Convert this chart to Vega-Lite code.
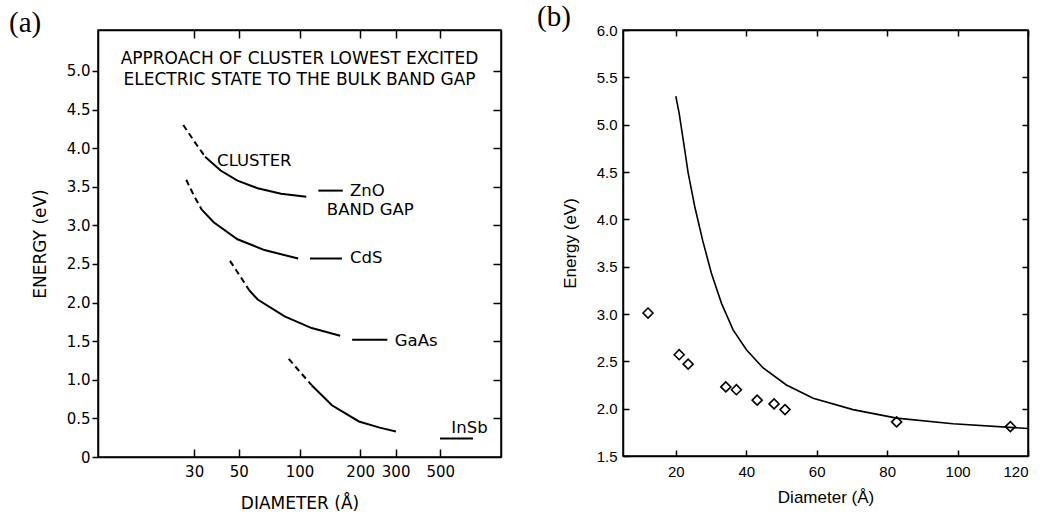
{
  "$schema": "https://vega.github.io/schema/vega-lite/v6.json",
  "background": "white",
  "padding": {"left": 8, "top": 2, "right": 0, "bottom": 0},
  "spacing": 33,
  "config": {
    "view": {"stroke": "black", "strokeWidth": 1.5},
    "axis": {"grid": false, "domain": true, "domainColor": "black", "domainWidth": 1.5, "tickColor": "black", "labelColor": "black", "titleColor": "black", "titleFontWeight": "normal", "tickWidth": 1.5},
    "title": {"font": "Liberation Serif", "fontSize": 29, "fontWeight": "normal", "color": "black", "anchor": "start", "frame": "group", "baseline": "alphabetic"}
  },
  "datasets": {
    "adash": [
      {"s": "ZnO", "logd": 1.4232, "e": 4.30},
      {"s": "ZnO", "logd": 1.4771, "e": 4.09},
      {"s": "ZnO", "logd": 1.5315, "e": 3.89},
      {"s": "CdS", "logd": 1.4378, "e": 3.59},
      {"s": "CdS", "logd": 1.4771, "e": 3.38},
      {"s": "CdS", "logd": 1.5159, "e": 3.20},
      {"s": "GaAs", "logd": 1.6551, "e": 2.54},
      {"s": "GaAs", "logd": 1.7033, "e": 2.35},
      {"s": "GaAs", "logd": 1.7505, "e": 2.16},
      {"s": "InSb", "logd": 1.9465, "e": 1.27},
      {"s": "InSb", "logd": 2.0, "e": 1.11},
      {"s": "InSb", "logd": 2.0603, "e": 0.93}
    ],
    "asolid": [
      {"s": "ZnO", "logd": 1.5315, "e": 3.89},
      {"s": "ZnO", "logd": 1.6085, "e": 3.71},
      {"s": "ZnO", "logd": 1.6920, "e": 3.58},
      {"s": "ZnO", "logd": 1.7924, "e": 3.48},
      {"s": "ZnO", "logd": 1.9085, "e": 3.41},
      {"s": "ZnO", "logd": 2.0334, "e": 3.37},
      {"s": "ZnO gap", "logd": 2.0934, "e": 3.45},
      {"s": "ZnO gap", "logd": 2.2148, "e": 3.45},
      {"s": "CdS", "logd": 1.5159, "e": 3.20},
      {"s": "CdS", "logd": 1.5740, "e": 3.04},
      {"s": "CdS", "logd": 1.6920, "e": 2.82},
      {"s": "CdS", "logd": 1.8261, "e": 2.68},
      {"s": "CdS", "logd": 1.9934, "e": 2.57},
      {"s": "CdS gap", "logd": 2.0519, "e": 2.57},
      {"s": "CdS gap", "logd": 2.2111, "e": 2.57},
      {"s": "GaAs", "logd": 1.7505, "e": 2.16},
      {"s": "GaAs", "logd": 1.7924, "e": 2.04},
      {"s": "GaAs", "logd": 1.9263, "e": 1.82},
      {"s": "GaAs", "logd": 2.0603, "e": 1.67},
      {"s": "GaAs", "logd": 2.2019, "e": 1.57},
      {"s": "GaAs gap", "logd": 2.2613, "e": 1.52},
      {"s": "GaAs gap", "logd": 2.4362, "e": 1.52},
      {"s": "InSb", "logd": 2.0603, "e": 0.93},
      {"s": "InSb", "logd": 2.1608, "e": 0.67},
      {"s": "InSb", "logd": 2.2949, "e": 0.46},
      {"s": "InSb", "logd": 2.3979, "e": 0.38},
      {"s": "InSb", "logd": 2.4786, "e": 0.33},
      {"s": "InSb gap", "logd": 2.6972, "e": 0.24},
      {"s": "InSb gap", "logd": 2.8609, "e": 0.24}
    ],
    "alabels": [
      {"logd": 1.5911, "e": 3.83, "t": "CLUSTER"},
      {"logd": 2.2504, "e": 3.45, "t": "ZnO"},
      {"logd": 2.1358, "e": 3.20, "t": "BAND GAP"},
      {"logd": 2.2504, "e": 2.58, "t": "CdS"},
      {"logd": 2.4728, "e": 1.50, "t": "GaAs"},
      {"logd": 2.7536, "e": 0.37, "t": "InSb"}
    ],
    "atitle": [
      {"logd": 2.0, "e": 5.15, "t": "APPROACH OF CLUSTER LOWEST EXCITED"},
      {"logd": 2.0, "e": 4.88, "t": "ELECTRIC STATE TO THE BULK BAND GAP"}
    ],
    "bcurve": [
      {"d": 20, "e": 5.30},
      {"d": 20.95, "e": 5.12},
      {"d": 22.1, "e": 4.84},
      {"d": 23.5, "e": 4.49},
      {"d": 25.4, "e": 4.13},
      {"d": 27.6, "e": 3.78},
      {"d": 30.1, "e": 3.43},
      {"d": 33.0, "e": 3.11},
      {"d": 36.3, "e": 2.83},
      {"d": 40.1, "e": 2.62},
      {"d": 44.8, "e": 2.43},
      {"d": 51.4, "e": 2.25},
      {"d": 59.0, "e": 2.11},
      {"d": 70.3, "e": 1.99},
      {"d": 82.7, "e": 1.90},
      {"d": 98.7, "e": 1.84},
      {"d": 120, "e": 1.79}
    ],
    "bpts": [
      {"d": 12.1, "e": 3.01},
      {"d": 20.95, "e": 2.57},
      {"d": 23.5, "e": 2.47},
      {"d": 34.2, "e": 2.23},
      {"d": 37.2, "e": 2.20},
      {"d": 43.1, "e": 2.09},
      {"d": 47.9, "e": 2.05},
      {"d": 51.0, "e": 1.99},
      {"d": 82.7, "e": 1.86},
      {"d": 115.0, "e": 1.81}
    ]
  },
  "hconcat": [
    {
      "width": 403,
      "height": 427,
      "title": {"text": "(a)", "dx": -89, "offset": -9},
      "resolve": {"axis": {"x": "independent", "y": "independent"}},
      "layer": [
        {
          "data": {"name": "asolid"},
          "mark": {"type": "line", "color": "black", "strokeWidth": 2},
          "encoding": {
            "x": {"field": "logd", "type": "quantitative",
              "scale": {"domain": [1, 3], "nice": false, "zero": false},
              "axis": {"orient": "bottom", "values": [1.4771, 1.699, 2, 2.301, 2.4771, 2.699],
                "labelExpr": "format(pow(10, datum.value), 'd')", "title": "DIAMETER (Å)",
                "tickSize": -8, "labelPadding": 15, "labelFont": "DejaVu Sans", "labelFontSize": 15,
                "titleFont": "DejaVu Sans", "titleFontSize": 17, "titlePadding": 16}},
            "y": {"field": "e", "type": "quantitative",
              "scale": {"domain": [0, 5.53], "nice": false, "zero": false},
              "axis": {"orient": "left", "values": [0, 0.5, 1, 1.5, 2, 2.5, 3, 3.5, 4, 4.5, 5],
                "labelExpr": "datum.value == 0 ? '0' : format(datum.value, '.1f')", "title": "ENERGY (eV)",
                "tickSize": 6, "labelPadding": 2, "labelFont": "DejaVu Sans", "labelFontSize": 15,
                "titleFont": "DejaVu Sans", "titleFontSize": 17, "titlePadding": 17}},
            "detail": {"field": "s"}
          }
        },
        {
          "data": {"name": "adash"},
          "mark": {"type": "line", "color": "black", "strokeWidth": 2, "strokeDash": [6, 4]},
          "encoding": {
            "x": {"field": "logd", "type": "quantitative", "scale": {"domain": [1, 3], "nice": false, "zero": false},
              "axis": {"orient": "top", "values": [1.4771, 1.699, 2, 2.301, 2.4771, 2.699], "labels": false, "title": null, "tickSize": -8}},
            "y": {"field": "e", "type": "quantitative", "scale": {"domain": [0, 5.53], "nice": false, "zero": false},
              "axis": {"orient": "right", "values": [0.5, 1, 1.5, 2, 2.5, 3, 3.5, 4, 4.5, 5], "labels": false, "title": null, "tickSize": -8}},
            "detail": {"field": "s"}
          }
        },
        {
          "data": {"name": "alabels"},
          "mark": {"type": "text", "align": "left", "baseline": "middle", "font": "DejaVu Sans", "fontSize": 16.5, "color": "black"},
          "encoding": {
            "x": {"field": "logd", "type": "quantitative", "scale": {"domain": [1, 3], "nice": false, "zero": false}, "axis": null},
            "y": {"field": "e", "type": "quantitative", "scale": {"domain": [0, 5.53], "nice": false, "zero": false}, "axis": null},
            "text": {"field": "t"}
          }
        },
        {
          "data": {"name": "atitle"},
          "mark": {"type": "text", "align": "center", "baseline": "middle", "font": "DejaVu Sans", "fontSize": 17, "color": "black"},
          "encoding": {
            "x": {"field": "logd", "type": "quantitative", "scale": {"domain": [1, 3], "nice": false, "zero": false}, "axis": null},
            "y": {"field": "e", "type": "quantitative", "scale": {"domain": [0, 5.53], "nice": false, "zero": false}, "axis": null},
            "text": {"field": "t"}
          }
        }
      ]
    },
    {
      "width": 405,
      "height": 426,
      "title": {"text": "(b)", "dx": -86, "offset": -9},
      "resolve": {"axis": {"x": "independent", "y": "independent"}},
      "layer": [
        {
          "data": {"name": "bcurve"},
          "mark": {"type": "line", "color": "black", "strokeWidth": 1.6},
          "encoding": {
            "x": {"field": "d", "type": "quantitative", "scale": {"domain": [5, 120], "nice": false, "zero": false},
              "axis": {"orient": "bottom", "values": [20, 40, 60, 80, 100, 120], "title": "Diameter (Å)",
                "tickSize": -6, "labelPadding": 14, "labelFont": "Liberation Sans", "labelFontSize": 15,
                "titleFont": "Liberation Sans", "titleFontSize": 17, "titlePadding": 10}},
            "y": {"field": "e", "type": "quantitative", "scale": {"domain": [1.5, 6], "nice": false, "zero": false},
              "axis": {"orient": "left", "values": [1.5, 2, 2.5, 3, 3.5, 4, 4.5, 5, 5.5, 6], "format": ".1f", "title": "Energy (eV)",
                "tickSize": -6, "labelPadding": 12, "labelFont": "Liberation Sans", "labelFontSize": 15,
                "titleFont": "Liberation Sans", "titleFontSize": 17, "titlePadding": 17}}
          }
        },
        {
          "data": {"name": "bpts"},
          "mark": {"type": "point", "shape": "diamond", "size": 100, "filled": false, "color": "black", "strokeWidth": 1.6, "opacity": 1},
          "encoding": {
            "x": {"field": "d", "type": "quantitative", "scale": {"domain": [5, 120], "nice": false, "zero": false},
              "axis": {"orient": "top", "values": [20, 40, 60, 80, 100, 120], "labels": false, "title": null, "tickSize": -6}},
            "y": {"field": "e", "type": "quantitative", "scale": {"domain": [1.5, 6], "nice": false, "zero": false},
              "axis": {"orient": "right", "values": [2, 2.5, 3, 3.5, 4, 4.5, 5, 5.5], "labels": false, "title": null, "tickSize": -6}}
          }
        }
      ]
    }
  ]
}
